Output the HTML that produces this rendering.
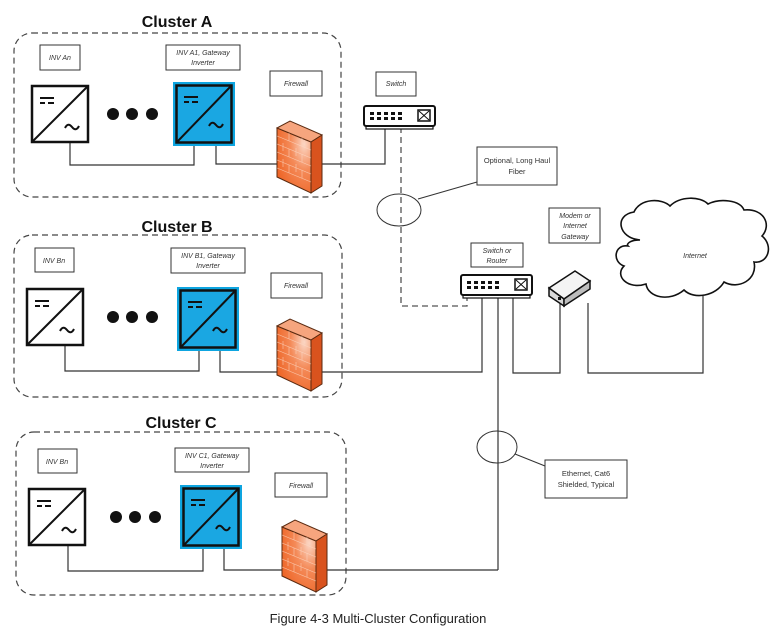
<!DOCTYPE html>
<html><head><meta charset="utf-8"><style>
html,body{margin:0;padding:0;background:#fff;}
svg{display:block;}
text{font-family:"Liberation Sans",sans-serif;}
.lb{font-size:7px;font-style:italic;fill:#333;}
.ti{font-size:16px;font-weight:bold;fill:#111;}
</style></head><body>
<svg width="774" height="637" viewBox="0 0 774 637" xmlns="http://www.w3.org/2000/svg">
<defs>
<g id="inv">
<rect x="0" y="0" width="56" height="56" fill="#fff" stroke="#111" stroke-width="2.5"/>
<line x1="0" y1="56" x2="56" y2="0" stroke="#111" stroke-width="2"/>
<line x1="8" y1="12" x2="22" y2="12" stroke="#111" stroke-width="2"/>
<line x1="8" y1="17" x2="13" y2="17" stroke="#111" stroke-width="2"/>
<line x1="16" y1="17" x2="22" y2="17" stroke="#111" stroke-width="2"/>
<path d="M33 42 q3 -6 7 -1 q4 5 7 -1" fill="none" stroke="#111" stroke-width="2"/>
</g>
<g id="ginv">
<rect x="0" y="0" width="62" height="64" fill="#0ea5e0"/>
<rect x="3.5" y="3.5" width="55" height="57" fill="#1aa7e2" stroke="#111" stroke-width="2.5"/>
<line x1="3.5" y1="60.5" x2="58.5" y2="3.5" stroke="#111" stroke-width="2"/>
<line x1="11" y1="15" x2="25" y2="15" stroke="#111" stroke-width="2"/>
<line x1="11" y1="20" x2="16" y2="20" stroke="#111" stroke-width="2"/>
<line x1="19" y1="20" x2="25" y2="20" stroke="#111" stroke-width="2"/>
<path d="M36 44 q3 -6 7 -1 q4 5 7 -1" fill="none" stroke="#111" stroke-width="2"/>
</g>
<radialGradient id="fg" cx="0.8" cy="0.25" r="0.9">
<stop offset="0" stop-color="#fbd6c4"/><stop offset="0.45" stop-color="#f48a58"/><stop offset="1" stop-color="#ee6526"/>
</radialGradient>
<g id="fw">
<polygon points="0,7 34,21 34,72 0,56" fill="url(#fg)" stroke="#5a2a10" stroke-width="1"/>
<polygon points="0,7 13,0 45,14 34,21" fill="#f6a57e" stroke="#5a2a10" stroke-width="1"/>
<polygon points="34,21 45,14 45,65 34,72" fill="#d9531e" stroke="#5a2a10" stroke-width="1"/>
<g stroke="#fcd9c6" stroke-width="0.6" opacity="0.8">
<line x1="0" y1="15" x2="34" y2="29"/><line x1="0" y1="23" x2="34" y2="37"/><line x1="0" y1="31" x2="34" y2="45"/>
<line x1="0" y1="39" x2="34" y2="53"/><line x1="0" y1="47" x2="34" y2="61"/>
<line x1="12" y1="12" x2="12" y2="20"/><line x1="25" y1="17" x2="25" y2="25"/><line x1="6" y1="22" x2="6" y2="30"/><line x1="19" y1="27" x2="19" y2="35"/>
<line x1="12" y1="28" x2="12" y2="36"/><line x1="25" y1="33" x2="25" y2="41"/><line x1="6" y1="38" x2="6" y2="46"/><line x1="19" y1="43" x2="19" y2="51"/>
<line x1="12" y1="44" x2="12" y2="52"/><line x1="25" y1="49" x2="25" y2="57"/>
</g>
</g>
<g id="sw">
<rect x="2" y="19" width="67" height="4" fill="#fff" stroke="#111" stroke-width="1.2"/>
<rect x="0" y="0" width="71" height="20" rx="2" fill="#fff" stroke="#111" stroke-width="2"/>
<g fill="#111"><rect x="6" y="6" width="4" height="3"/><rect x="13" y="6" width="4" height="3"/><rect x="20" y="6" width="4" height="3"/><rect x="27" y="6" width="4" height="3"/><rect x="34" y="6" width="4" height="3"/>
<rect x="6" y="11" width="4" height="3"/><rect x="13" y="11" width="4" height="3"/><rect x="20" y="11" width="4" height="3"/><rect x="27" y="11" width="4" height="3"/><rect x="34" y="11" width="4" height="3"/></g>
<rect x="54" y="4" width="12" height="11" fill="#fff" stroke="#111" stroke-width="1.5"/>
<path d="M55 5 L65 14 M65 5 L55 14" stroke="#111" stroke-width="1"/>
</g>
</defs>

<!-- Cluster A -->
<text class="ti" x="177" y="27" text-anchor="middle">Cluster A</text>
<rect x="14" y="33" width="327" height="164" rx="18" fill="none" stroke="#444" stroke-width="1.2" stroke-dasharray="6,4"/>
<rect x="40" y="45" width="40" height="25" fill="#fff" stroke="#333"/><text class="lb" x="60" y="60" text-anchor="middle">INV An</text>
<rect x="166" y="45" width="74" height="25" fill="#fff" stroke="#333"/><text class="lb" x="203" y="55" text-anchor="middle">INV A1, Gateway</text><text class="lb" x="203" y="65" text-anchor="middle">Inverter</text>
<rect x="270" y="71" width="52" height="25" fill="#fff" stroke="#333"/><text class="lb" x="296" y="86" text-anchor="middle">Firewall</text>
<polyline points="70,142 70,165 194,165 194,146" fill="none" stroke="#333" stroke-width="1.2"/>
<polyline points="216,146 216,164 385,164 385,127" fill="none" stroke="#333" stroke-width="1.2"/>
<use href="#inv" x="32" y="86"/>
<circle cx="113" cy="114" r="6" fill="#111"/><circle cx="132" cy="114" r="6" fill="#111"/><circle cx="152" cy="114" r="6" fill="#111"/>
<use href="#ginv" x="173" y="82"/>
<use href="#fw" x="277" y="121"/>

<!-- Switch top -->
<rect x="376" y="72" width="40" height="24" fill="#fff" stroke="#333"/><text class="lb" x="396" y="86" text-anchor="middle">Switch</text>
<polyline points="401,127 401,306 467,306 467,298" fill="none" stroke="#555" stroke-width="1.3" stroke-dasharray="6,4"/>
<use href="#sw" x="364" y="106"/>
<ellipse cx="399" cy="210" rx="22" ry="16" fill="none" stroke="#333"/>
<line x1="418" y1="199" x2="477" y2="182" stroke="#333"/>
<rect x="477" y="147" width="80" height="38" fill="#fff" stroke="#333"/>
<text x="517" y="163" text-anchor="middle" font-size="7.5" fill="#333">Optional, Long Haul</text><text x="517" y="174" text-anchor="middle" font-size="7.5" fill="#333">Fiber</text>

<!-- Cluster B -->
<text class="ti" x="177" y="232" text-anchor="middle">Cluster B</text>
<rect x="14" y="235" width="328" height="162" rx="18" fill="none" stroke="#444" stroke-width="1.2" stroke-dasharray="6,4"/>
<rect x="35" y="248" width="39" height="24" fill="#fff" stroke="#333"/><text class="lb" x="54" y="263" text-anchor="middle">INV Bn</text>
<rect x="171" y="248" width="74" height="25" fill="#fff" stroke="#333"/><text class="lb" x="208" y="258" text-anchor="middle">INV B1, Gateway</text><text class="lb" x="208" y="268" text-anchor="middle">Inverter</text>
<rect x="271" y="273" width="51" height="25" fill="#fff" stroke="#333"/><text class="lb" x="296" y="288" text-anchor="middle">Firewall</text>
<polyline points="65,345 65,371 199,371 199,350" fill="none" stroke="#333" stroke-width="1.2"/>
<polyline points="220,350 220,372 482,372 482,298" fill="none" stroke="#333" stroke-width="1.2"/>
<use href="#inv" x="27" y="289"/>
<circle cx="113" cy="317" r="6" fill="#111"/><circle cx="132" cy="317" r="6" fill="#111"/><circle cx="152" cy="317" r="6" fill="#111"/>
<use href="#ginv" x="177" y="287"/>
<use href="#fw" x="277" y="319"/>

<!-- Router -->
<rect x="471" y="243" width="52" height="24" fill="#fff" stroke="#333"/><text class="lb" x="497" y="253" text-anchor="middle">Switch or</text><text class="lb" x="497" y="263" text-anchor="middle">Router</text>
<line x1="498" y1="298" x2="498" y2="570" stroke="#333" stroke-width="1.2"/>
<polyline points="513,298 513,373 560,373 560,303" fill="none" stroke="#333" stroke-width="1.2"/>
<polyline points="588,303 588,373 703,373 703,296" fill="none" stroke="#333" stroke-width="1.2"/>
<use href="#sw" x="461" y="275"/>

<!-- Modem -->
<rect x="549" y="208" width="51" height="35" fill="#fff" stroke="#333"/>
<text class="lb" x="575" y="218" text-anchor="middle">Modem or</text><text class="lb" x="575" y="228" text-anchor="middle">Internet</text><text class="lb" x="575" y="239" text-anchor="middle">Gateway</text>
<polygon points="549,288 575,271 590,281 564,299" fill="#f4f4f4" stroke="#111" stroke-width="1.5"/>
<polygon points="549,288 564,299 564,306 549,296" fill="#d8d8d8" stroke="#111" stroke-width="1.5"/>
<polygon points="564,299 590,281 590,289 564,306" fill="#bdbdbd" stroke="#111" stroke-width="1.5"/>
<rect x="558" y="297" width="3" height="3" fill="#111"/>

<!-- Cloud -->
<path d="M640 240 C618 238 614 215 634 212 C640 198 662 198 670 206 C680 196 700 196 708 204 C720 198 740 200 744 210 C764 208 772 225 762 236 C774 246 768 264 754 262 C758 280 738 290 724 282 C716 296 694 300 684 290 C670 302 648 298 646 284 C628 290 614 276 624 266 C612 262 614 244 628 246 C626 244 630 240 640 240 Z" fill="#fff" stroke="#111" stroke-width="1.6"/>
<text class="lb" x="695" y="258" text-anchor="middle">Internet</text>

<!-- Ethernet -->
<ellipse cx="497" cy="447" rx="20" ry="16" fill="none" stroke="#333"/>
<line x1="515" y1="454" x2="545" y2="466" stroke="#333"/>
<rect x="545" y="460" width="82" height="38" fill="#fff" stroke="#333"/>
<text x="586" y="476" text-anchor="middle" font-size="7.5" fill="#333">Ethernet, Cat6</text><text x="586" y="487" text-anchor="middle" font-size="7.5" fill="#333">Shielded, Typical</text>

<!-- Cluster C -->
<text class="ti" x="181" y="428" text-anchor="middle">Cluster C</text>
<rect x="16" y="432" width="330" height="163" rx="18" fill="none" stroke="#444" stroke-width="1.2" stroke-dasharray="6,4"/>
<rect x="38" y="449" width="39" height="24" fill="#fff" stroke="#333"/><text class="lb" x="57" y="464" text-anchor="middle">INV Bn</text>
<rect x="175" y="448" width="74" height="24" fill="#fff" stroke="#333"/><text class="lb" x="212" y="458" text-anchor="middle">INV C1, Gateway</text><text class="lb" x="212" y="468" text-anchor="middle">Inverter</text>
<rect x="275" y="473" width="52" height="24" fill="#fff" stroke="#333"/><text class="lb" x="301" y="488" text-anchor="middle">Firewall</text>
<polyline points="68,545 68,571 203,571 203,549" fill="none" stroke="#333" stroke-width="1.2"/>
<polyline points="224,549 224,570 498,570" fill="none" stroke="#333" stroke-width="1.2"/>
<use href="#inv" x="29" y="489"/>
<circle cx="116" cy="517" r="6" fill="#111"/><circle cx="135" cy="517" r="6" fill="#111"/><circle cx="155" cy="517" r="6" fill="#111"/>
<use href="#ginv" x="180" y="485"/>
<use href="#fw" x="282" y="520"/>

<text x="378" y="623" text-anchor="middle" font-size="13" fill="#222">Figure 4-3 Multi-Cluster Configuration</text>
</svg>
</body></html>
